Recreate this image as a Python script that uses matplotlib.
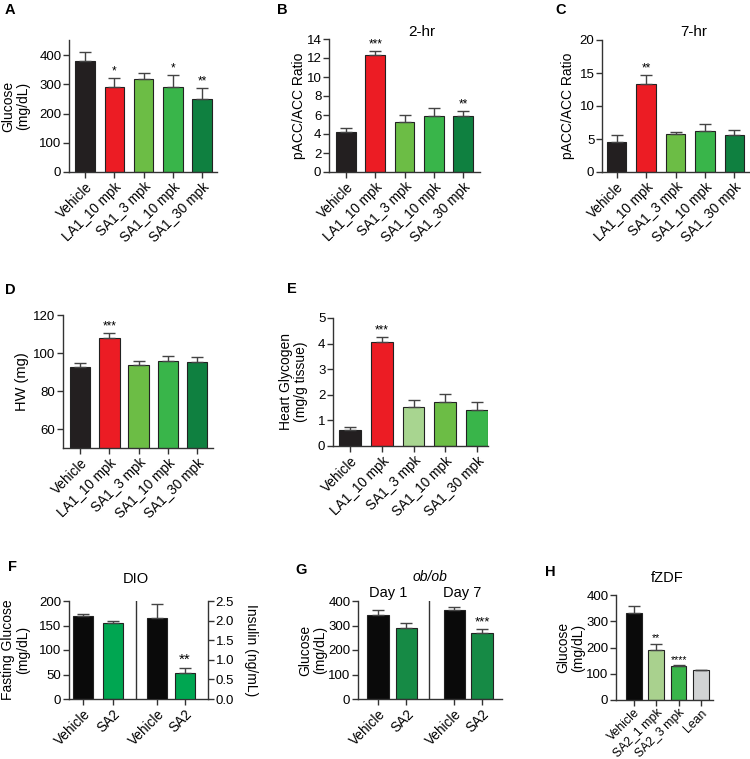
import matplotlib
matplotlib.use('Agg')
import matplotlib.pyplot as plt

plt.rcParams['font.family'] = ['Liberation Sans', 'DejaVu Sans']

# ---------------- data ----------------
groups5 = ['Vehicle', 'LA1_10 mpk', 'SA1_3 mpk', 'SA1_10 mpk', 'SA1_30 mpk']

a_vals = [380, 291, 317, 290, 248]
a_err = [31, 31, 22, 40, 40]
a_stars = ['', '*', '', '*', '**']

b_vals = [4.25, 12.3, 5.25, 5.9, 5.9]
b_err = [0.35, 0.4, 0.75, 0.8, 0.5]
b_stars = ['', '***', '', '', '**']

c_vals = [4.6, 13.3, 5.8, 6.2, 5.6]
c_err = [1.0, 1.4, 0.3, 1.0, 0.8]
c_stars = ['', '**', '', '', '']

d_vals = [92.5, 108, 93.7, 95.7, 95.3]
d_err = [2.0, 2.5, 2.0, 2.6, 2.5]
d_stars = ['', '***', '', '', '']

e_vals = [0.62, 4.08, 1.53, 1.70, 1.42]
e_err = [0.13, 0.17, 0.25, 0.32, 0.28]
e_stars = ['', '***', '', '', '']

f_groups = ['Vehicle', 'SA2']
f_glucose = [169, 156]
f_glucose_err = [4, 3]
f_insulin = [2.06, 0.66]
f_insulin_err = [0.36, 0.14]
f_insulin_stars = ['', '**']

g_groups = ['Vehicle', 'SA2']
g_day1 = [342, 289]
g_day1_err = [23, 23]
g_day7 = [362, 268]
g_day7_err = [13, 16]
g_day7_stars = ['', '***']

h_groups = ['Vehicle', 'SA2_1 mpk', 'SA2_3 mpk', 'Lean']
h_vals = [330, 190, 130, 113]
h_err = [27, 25, 2, 2]
h_stars = ['', '**', '****', '']

# ---------------- colours ----------------
BLK = '#231f20'
RED = '#ec1c24'
G1 = '#6cbd45'
G2 = '#39b54a'
G3 = '#0f8040'
GL = '#a8d590'
cols_abcd = [BLK, RED, G1, G2, G3]
cols_e = [BLK, RED, GL, G1, G2]
F_GREEN = '#00a651'
G_GREEN = '#168a45'
cols_h = ['#0a0a0a', '#a9d18e', '#39b54a', '#d1d3d4']

W, H = 750, 759
fig = plt.figure(figsize=(7.5, 7.59), dpi=100)

YT = 9.5     # y tick label size
XT = 9.8     # x tick label size
YL = 10      # y axis label size


def px_axes(l, t, r, b):
    return fig.add_axes([l / W, 1 - b / H, (r - l) / W, (b - t) / H])


def fx(x):
    return x / W


def fy(y):
    return 1 - y / H


EDGE = '#222222'
ECOL = '#444444'


def style(ax, right=False):
    ax.spines['top'].set_visible(False)
    if right:
        ax.spines['left'].set_visible(False)
        ax.spines['bottom'].set_visible(False)
        ax.spines['right'].set_linewidth(1.0)
        ax.spines['right'].set_color('#333333')
    else:
        ax.spines['right'].set_visible(False)
        for s in ['left', 'bottom']:
            ax.spines[s].set_linewidth(1.0)
            ax.spines[s].set_color('#333333')
    ax.tick_params(axis='both', direction='out', length=4, width=1,
                   color='#333333', labelsize=YT, pad=1.5)


def bars(ax, pos, vals, errs, colors, width, stars=None, star_size=8.5):
    ax.bar(pos, vals, width=width, color=colors, edgecolor=EDGE,
           linewidth=0.8, zorder=2)
    ax.errorbar(pos, vals, yerr=[[0] * len(vals), errs], fmt='none',
                ecolor=ECOL, elinewidth=1.0, capsize=4, capthick=1.0, zorder=3)
    if stars:
        for p, v, e, s in zip(pos, vals, errs, stars):
            if s:
                ax.annotate(s, (p, v + e), xytext=(0, 0.5),
                            textcoords='offset points', ha='center',
                            va='bottom', fontsize=star_size)


def xlabels(ax, pos, labels, size=XT):
    ax.set_xticks(pos)
    ax.set_xticklabels(labels, rotation=45, ha='right',
                       rotation_mode='anchor', fontsize=size)


def place_ylabel(ax, text, xr, size=YL):
    ax.set_ylabel(text, fontsize=size, linespacing=1.05)
    pos = ax.get_position()
    ax.yaxis.set_label_coords(xr / W, pos.y0 + pos.height / 2,
                              transform=fig.transFigure)


pos5 = list(range(5))

# ---------------- A ----------------
axA = px_axes(69, 40.4, 217, 172)
bars(axA, pos5, a_vals, a_err, cols_abcd, 0.67, a_stars)
axA.set_ylim(0, 450)
axA.set_yticks([0, 100, 200, 300, 400])
axA.set_xlim(-0.55, 4.51)
style(axA)
xlabels(axA, pos5, groups5)
place_ylabel(axA, 'Glucose\n(mg/dL)', 30)

# ---------------- B ----------------
axB = px_axes(329, 39, 480, 172)
bars(axB, pos5, b_vals, b_err, cols_abcd, 0.68, b_stars)
axB.set_ylim(0, 14)
axB.set_yticks(range(0, 15, 2))
axB.set_xlim(-0.58, 4.58)
style(axB)
xlabels(axB, pos5, groups5)
place_ylabel(axB, 'pACC/ACC Ratio', 306)
fig.text(fx(422), fy(32), '2-hr', ha='center', va='center', fontsize=11)

# ---------------- C ----------------
axC = px_axes(602, 40, 749, 172)
bars(axC, pos5, c_vals, c_err, cols_abcd, 0.66, c_stars)
axC.set_ylim(0, 20)
axC.set_yticks([0, 5, 10, 15, 20])
axC.set_xlim(-0.5, 4.5)
style(axC)
xlabels(axC, pos5, groups5)
place_ylabel(axC, 'pACC/ACC Ratio', 575)
fig.text(fx(694), fy(32), '7-hr', ha='center', va='center', fontsize=11)

# ---------------- D ----------------
axD = px_axes(63, 315, 213, 448)
bars(axD, pos5, d_vals, d_err, cols_abcd, 0.70, d_stars)
axD.set_ylim(50, 120)
axD.set_yticks([60, 80, 100, 120])
axD.set_xlim(-0.58, 4.54)
style(axD)
xlabels(axD, pos5, groups5)
place_ylabel(axD, 'HW (mg)', 29, size=10.5)

# ---------------- E ----------------
axE = px_axes(333, 318, 488, 446)
bars(axE, pos5, e_vals, e_err, cols_e, 0.68, e_stars)
axE.set_ylim(0, 5)
axE.set_yticks(range(0, 6))
axE.set_xlim(-0.54, 4.35)
style(axE)
xlabels(axE, pos5, groups5)
place_ylabel(axE, 'Heart Glycogen\n(mg/g tissue)', 308)

# ---------------- F ----------------
axF = px_axes(69, 601, 208, 699)
f_pos_l = [0, 1]
f_pos_r = [2.47, 3.4]
bars(axF, f_pos_l, f_glucose, f_glucose_err, ['#0a0a0a', F_GREEN], 0.67)
axF.set_ylim(0, 200)
axF.set_yticks([0, 50, 100, 150, 200])
axF.set_xlim(-0.47, 4.17)
axF.axvline(1.77, color='#333333', lw=1.0)
style(axF)
xlabels(axF, f_pos_l + f_pos_r, f_groups + f_groups)
place_ylabel(axF, 'Fasting Glucose\n(mg/dL)', 30)
axF2 = axF.twinx()
bars(axF2, f_pos_r, f_insulin, f_insulin_err, ['#0a0a0a', F_GREEN], 0.67,
     f_insulin_stars, star_size=11)
axF2.set_ylim(0, 2.5)
axF2.set_yticks([0.0, 0.5, 1.0, 1.5, 2.0, 2.5])
axF2.set_yticklabels(['0.0', '0.5', '1.0', '1.5', '2.0', '2.5'])
axF2.set_xlim(-0.47, 4.17)
style(axF2, right=True)
axF2.set_ylabel('Insulin (ng/mL)', fontsize=YL, rotation=270, va='bottom')
pF = axF.get_position()
axF2.yaxis.set_label_coords(244 / W, pF.y0 + pF.height / 2,
                            transform=fig.transFigure)
fig.text(fx(136), fy(579), 'DIO', ha='center', va='center', fontsize=10.5)

# ---------------- G ----------------
axG = px_axes(358, 601, 502, 699)
g_pos_1 = [0, 1]
g_pos_7 = [2.67, 3.65]
bars(axG, g_pos_1, g_day1, g_day1_err, ['#0a0a0a', G_GREEN], 0.74)
bars(axG, g_pos_7, g_day7, g_day7_err, ['#0a0a0a', G_GREEN], 0.74,
     g_day7_stars, star_size=9.5)
axG.set_ylim(0, 400)
axG.set_yticks([0, 100, 200, 300, 400])
axG.set_xlim(-0.7, 4.35)
axG.axvline(1.79, color='#333333', lw=1.0)
style(axG)
xlabels(axG, g_pos_1 + g_pos_7, g_groups + g_groups)
place_ylabel(axG, 'Glucose\n(mg/dL)', 327)
fig.text(fx(430), fy(577), 'ob/ob', ha='center', va='center', fontsize=10,
         style='italic')
fig.text(fx(388), fy(593), 'Day 1', ha='center', va='center', fontsize=10.5)
fig.text(fx(462), fy(593), 'Day 7', ha='center', va='center', fontsize=10.5)

# ---------------- H ----------------
axH = px_axes(616, 595, 713, 700)
h_pos = list(range(4))
bars(axH, h_pos, h_vals, h_err, cols_h, 0.70, h_stars, star_size=7.5)
axH.set_ylim(0, 400)
axH.set_yticks([0, 100, 200, 300, 400])
axH.set_xlim(-0.8, 3.54)
style(axH)
xlabels(axH, h_pos, h_groups, size=8.8)
axH.tick_params(axis='x', pad=1)
place_ylabel(axH, 'Glucose\n(mg/dL)', 585)
fig.text(fx(667), fy(578), 'fZDF', ha='center', va='center', fontsize=10.5)

# ---------------- panel letters ----------------
for letter, x, y in [('A', 5, 3), ('B', 277, 3), ('C', 555, 3),
                     ('D', 5, 283), ('E', 287, 282), ('F', 8, 560),
                     ('G', 295, 563), ('H', 545, 565)]:
    fig.text(fx(x), fy(y), letter, ha='left', va='top', fontsize=10.5,
             fontweight='bold')

fig.savefig('out.png', dpi=100)
